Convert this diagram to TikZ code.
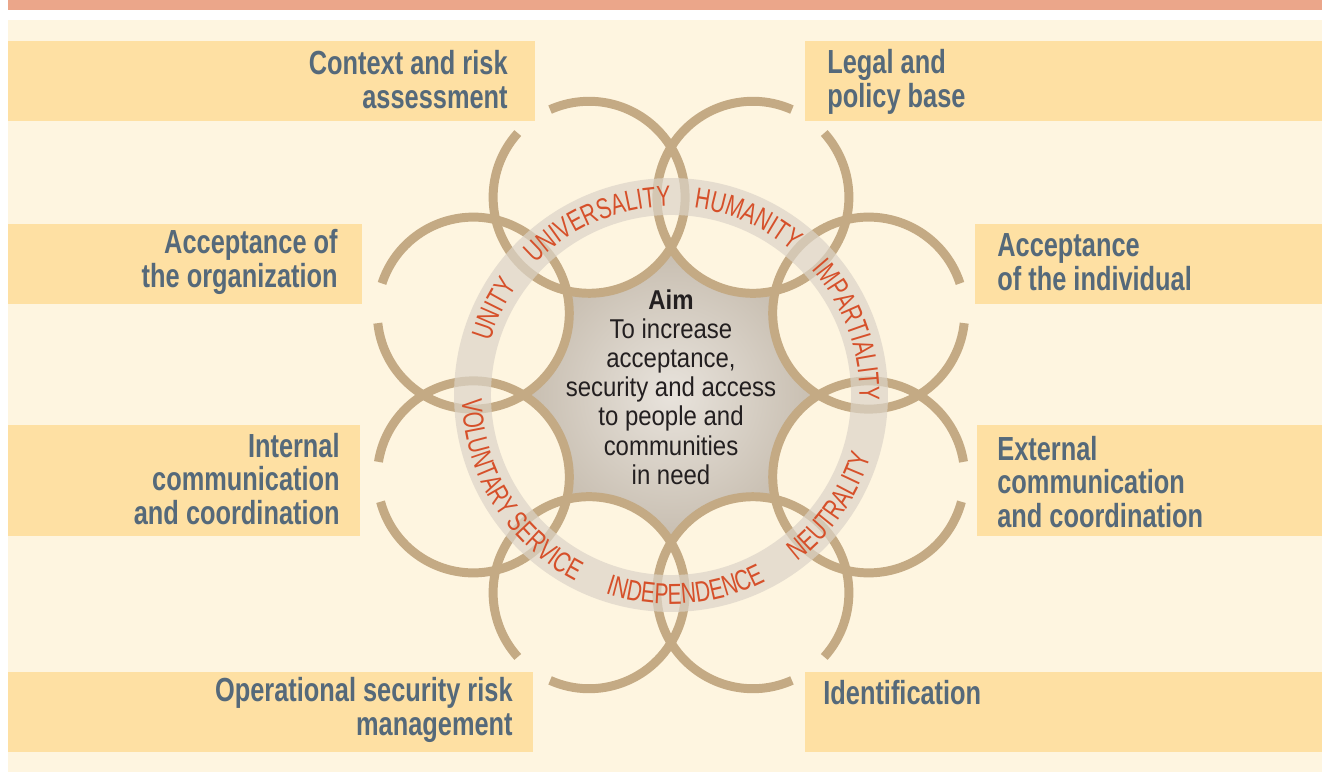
\documentclass[tikz,border=0pt]{standalone}
\usepackage{fontspec}
\setmainfont{Liberation Sans}
\newfontfamily\vocefont{Liberation Sans}[FakeStretch=0.76]
\newfontfamily\scopofont{Liberation Sans}[FakeStretch=0.88]
\newfontfamily\principiofont{Liberation Sans}[FakeStretch=0.72]
\usetikzlibrary{decorations.text}

\definecolor{salmone}{RGB}{235,166,138}
\definecolor{crema}{RGB}{254,245,224}
\definecolor{giallo}{RGB}{254,224,163}
\definecolor{ardesia}{RGB}{85,105,122}
\definecolor{sabbia}{RGB}{196,170,132}
\definecolor{rosso}{RGB}{214,80,42}
\definecolor{grigiofascia}{RGB}{220,212,200}
\definecolor{stellachiaro}{RGB}{232,227,220}
\definecolor{stellascuro}{RGB}{198,188,174}
\definecolor{nero}{RGB}{35,31,32}

\newcommand\formaprincipio{\principiofont\fontsize{16.5}{16.5}\selectfont\color{rosso}}

\begin{document}
\begin{tikzpicture}[x=0.02cm, y=0.02cm,
    riquadro/.style={fill=giallo},
    voce/.style={font=\vocefont\bfseries\fontsize{19}{19.3}\selectfont,
                 text=ardesia, inner sep=0pt},
    cerchio/.style={draw=sabbia, line width=5.1pt},
    fascia/.style={draw=grigiofascia, draw opacity=0.7, line width=21pt},
    testoscopo/.style={font=\scopofont\fontsize{15.5}{16.6}\selectfont,
                       text=nero, inner sep=0pt, align=center}]

  \useasboundingbox (0,0) rectangle (1322,772);

  % ---- sfondo e fascia in alto ----------------------------------------------
  \fill[white]   (0,0)     rectangle (1322,772);
  \fill[salmone] (8,762)   rectangle (1322,772);
  \fill[crema]   (8,0)     rectangle (1322,752);

  % ---- riquadri gialli ------------------------------------------------------
  \fill[riquadro] (8,651)   rectangle (535,731);
  \fill[riquadro] (805,651) rectangle (1322,731);
  \fill[riquadro] (8,468)   rectangle (362,548);
  \fill[riquadro] (975,468) rectangle (1322,548);
  \fill[riquadro] (8,236)   rectangle (360,347);
  \fill[riquadro] (977,236) rectangle (1322,347);
  \fill[riquadro] (8,20)    rectangle (533,100);
  \fill[riquadro] (805,20)  rectangle (1322,100);

  \coordinate (centro) at (671,377);

  % ---- stella centrale, sfumata ---------------------------------------------
  \begin{scope}
    \clip (centro) circle (152);
    \shade[inner color=stellachiaro, outer color=stellascuro] (centro) circle (152);
  \end{scope}
  \begin{scope}
    \clip (centro) circle (172);
    \foreach \a in {22.5,67.5,...,337.5}
      \fill[crema] (centro) ++(\a:214) circle (96);
  \end{scope}

  % ---- otto cerchi aperti verso i riquadri ----------------------------------
  \foreach \a/\g in {22.5/6, 67.5/54, 112.5/126, 157.5/174,
                     202.5/183, 247.5/234, 292.5/306, 337.5/357}
    \draw[cerchio] (centro) ++(\a:214) ++(\g+12:96)
      arc[start angle=\g+12, end angle=\g+348, radius=96];

  % ---- anello dei principi --------------------------------------------------
  \draw[fascia] (centro) circle (198.5);

  \path[decorate, decoration={text along path, text align=center,
      text={|\formaprincipio|UNITY}}]
    (centro) ++(194:188.5) arc[start angle=194, end angle=114, radius=188.5];
  \path[decorate, decoration={text along path, text align=center,
      text={|\formaprincipio|UNIVERSALITY}}]
    (centro) ++(153:188.5) arc[start angle=153, end angle=73, radius=188.5];
  \path[decorate, decoration={text along path, text align=center,
      text={|\formaprincipio|HUMANITY}}]
    (centro) ++(106.5:188.5) arc[start angle=106.5, end angle=26.5, radius=188.5];
  \path[decorate, decoration={text along path, text align=center,
      text={|\formaprincipio|IMPARTIALITY}}]
    (centro) ++(60:188.5) arc[start angle=60, end angle=-20, radius=188.5];
  \path[decorate, decoration={text along path, text align=center,
      text={|\formaprincipio|NEUTRALITY}}]
    (centro) ++(-75:209) arc[start angle=-75, end angle=5, radius=209];
  \path[decorate, decoration={text along path, text align=center,
      text={|\formaprincipio|INDEPENDENCE}}]
    (centro) ++(-125.6:209) arc[start angle=-125.6, end angle=-45.6, radius=209];
  \path[decorate, decoration={text along path, text align=center,
      text={|\formaprincipio|VOLUNTARY SERVICE}}]
    (centro) ++(170:209) arc[start angle=170, end angle=254, radius=209];

  % ---- scopo al centro ------------------------------------------------------
  \node[testoscopo] (scopo) at (671,385)
    {{\bfseries Aim}\\To increase\\acceptance,\\security and access\\to people and\\communities\\in need};

  % ---- testi dei riquadri ---------------------------------------------------
  \node[voce, anchor=east, align=right] (contesto) at (508,692) {Context and risk\\assessment};
  \node[voce, anchor=west, align=left]  (legale)   at (827,690) {Legal and\\policy base};
  \node[voce, anchor=east, align=right] (accorg)   at (338,510) {Acceptance of\\the organization};
  \node[voce, anchor=west, align=left]  (accind)   at (997,510) {Acceptance\\of the individual};
  \node[voce, anchor=east, align=right] (interna)  at (340,293) {Internal\\communication\\and coordination};
  \node[voce, anchor=west, align=left]  (esterna)  at (997,290) {External\\communication\\and coordination};
  \node[voce, anchor=east, align=right] (gestione) at (513,62)  {Operational security risk\\management};
  \node[voce, anchor=west]              (identif)  at (823,79)  {Identification};

\end{tikzpicture}
\end{document}
